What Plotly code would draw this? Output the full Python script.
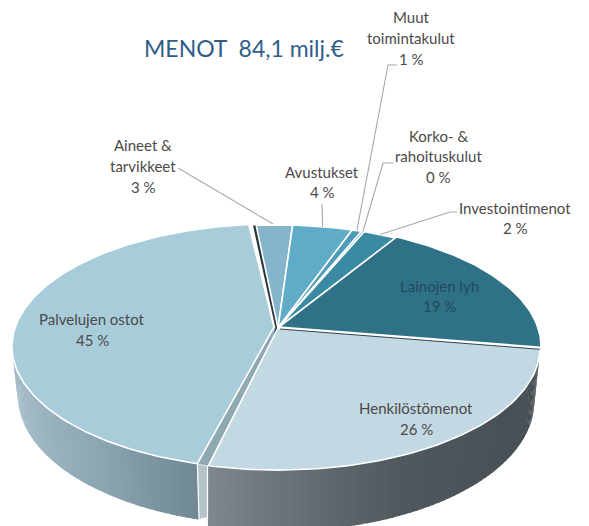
import math
import plotly.graph_objects as go

# ---- data ----
categories = ["Aineet & tarvikkeet", "Avustukset", "Muut toimintakulut", "Korko- & rahoituskulut",
              "Investointimenot", "Lainojen lyh", "Henkilöstömenot", "Palvelujen ostot"]
values = [2.6, 4.3, 0.7, 0.2, 2.4, 19.0, 26.0, 44.8]
percent_labels = ["3 %", "4 %", "1 %", "0 %", "2 %", "19 %", "26 %", "45 %"]
title_text = "MENOT  84,1 milj.€"

# ---- style / layout ----
W, H = 589, 526
FACE = ["#84b5ca", "#60abc8", "#4f9cb8", "#4795b0", "#3a8aa4", "#2f7288", "#c2d8e2", "#a9ccda"]
OFFSET = {7: (-4, -1), 5: (1, -1)}
GAP_7 = 1.4     # the large slice is pulled away from its neighbour
GAP_7_END = 0.9
START = -5.6
X0, Y0, A, B, K = 278, 328, 258.7, 119.5, 0.159
TXT = "#4a4a4a"
FONT = "Lato"

def rim(theta, off=(0, 0)):
    t = math.radians(theta)
    u, v = math.sin(t), math.cos(t)
    d = 1 + K * v
    return X0 + A * u / d + off[0], Y0 - B * v / d + off[1]

def lower(p, extra=0):
    x, y = p
    return X0 + (x - X0) * 0.978, y + 50 + extra + 0.06 * (y - 365)

def mix(c1, c2, f):
    a = [int(c1[i:i + 2], 16) for i in (1, 3, 5)]
    b = [int(c2[i:i + 2], 16) for i in (1, 3, 5)]
    return "rgb(%d,%d,%d)" % tuple(a[i] + (b[i] - a[i]) * f for i in range(3))

def ramp(stops, x):
    for (x1, c1), (x2, c2) in zip(stops, stops[1:]):
        if x <= x2:
            return mix(c1, c2, max(0, (x - x1) / (x2 - x1)))
    return stops[-1][1]

def poly(pts, fill, line="rgba(0,0,0,0)", width=0, name=None):
    fig.add_trace(go.Scatter(x=[p[0] for p in pts] + [pts[0][0]], y=[p[1] for p in pts] + [pts[0][1]],
                             mode="lines", fill="toself", fillcolor=fill,
                             line=dict(color=line, width=width), hoverinfo="text" if name else "skip",
                             text=name, showlegend=False))

def path(pts, color, width):
    fig.add_trace(go.Scatter(x=[p[0] for p in pts], y=[p[1] for p in pts], mode="lines",
                             line=dict(color=color, width=width), hoverinfo="skip", showlegend=False))

fig = go.Figure()

total = sum(values)
bounds = [START]
for v in values:
    bounds.append(bounds[-1] + v / total * 360)

# walls
WALL_L = [(14, "#a3bcc7"), (100, "#8ba5b1"), (200, "#6f8893")]
WALL_R = [(205, "#80898e"), (300, "#666f75"), (400, "#51595e"), (540, "#474f54")]

def wall(t1, t2, off, stops, extra=0, n=70):
    for i in range(n):
        a = t1 + (t2 - t1) * i / n
        b = t1 + (t2 - t1) * (i + 1) / n + (t2 - t1) / n * 0.3
        p, q = rim(a, off), rim(b, off)
        poly([p, q, lower(q, extra), lower(p, extra)], ramp(stops, (p[0] + q[0]) / 2))

wall(bounds[6], bounds[7], OFFSET.get(6, (0, 0)), WALL_R, extra=5)
wall(bounds[7] + GAP_7, 272, OFFSET[7], WALL_L)

# gap pieces between the two front slices
pa, pb = rim(bounds[7] + GAP_7, OFFSET[7]), rim(bounds[7])
poly([pa, (pb[0] - 1, pb[1]), (pb[0] - 1, lower(pb)[1] - 4), lower(pa)], "#b4c4cb", "white", 1.2)
apex_p = (X0 + OFFSET[7][0], Y0 + OFFSET[7][1])
poly([apex_p, (X0, Y0 + 2), pb, pa], "#8fa9b3")
path([rim(bounds[8] - 0.4), (X0 - 1, Y0), (X0 - 3, Y0 + 12)], "#2b3940", 3.2)

# top faces
for i, cat in enumerate(categories):
    off = OFFSET.get(i, (0, 0))
    t1 = bounds[i] + (GAP_7 if i == 7 else 0)
    t2 = bounds[i + 1] - (GAP_7_END if i == 7 else 0)
    n = max(3, int(values[i] * 3))
    arc = [rim(t1 + (t2 - t1) * j / n, off) for j in range(n + 1)]
    poly([(X0 + off[0], Y0 + off[1])] + arc, FACE[i], "white", 1.6, f"{cat}: {percent_labels[i]}")

# dark seam under the dark slice
path([(X0 + 2, Y0 + 1), rim(bounds[6], (0, 1))], "#22333b", 0.9)

# leader lines
LEADER_COLOR = "#a8a8a8"
def mid(i):
    return rim((bounds[i] + bounds[i + 1]) / 2)
path([(178, 168), (273, 224)], LEADER_COLOR, 1.1)
path([(322, 204), mid(1)], LEADER_COLOR, 1.1)
path([(397, 65), (388, 65), mid(2)], LEADER_COLOR, 1.1)
path([(393, 163), (383, 163), mid(3)], LEADER_COLOR, 1.1)
path([(457, 212), (450, 212), mid(4)], LEADER_COLOR, 1.1)

annotations = [dict(x=244, y=48, text=title_text, font=dict(size=23, color="#2f5d8a"))]
LABELS = [
    (143, [145, 166, 187], ["Aineet &", "tarvikkeet", percent_labels[0]], TXT),
    (322, [172, 192], ["Avustukset", percent_labels[1]], TXT),
    (411, [17, 38, 59], ["Muut", "toimintakulut", percent_labels[2]], TXT),
    (438, [136, 156, 177], ["Korko- &", "rahoituskulut", percent_labels[3]], TXT),
    (515, [208, 228], ["Investointimenot", percent_labels[4]], TXT),
    (439, [286, 306], ["Lainojen lyh", percent_labels[5]], "#1f4a5c"),
    (416, [408, 429], ["Henkilöstömenot", percent_labels[6]], TXT),
    (92, [319, 340], ["Palvelujen ostot", percent_labels[7]], TXT),
]
for x, ys, lines, col in LABELS:
    for y, t in zip(ys, lines):
        annotations.append(dict(x=x, y=y, text=t, font=dict(size=15, color=col)))

for a in annotations:
    a.update(xref="x", yref="y", showarrow=False, xanchor="center", yanchor="middle")
    a["font"]["family"] = FONT

fig.update_layout(width=W, height=H, margin=dict(l=0, r=0, t=0, b=0), paper_bgcolor="white", plot_bgcolor="white",
                  showlegend=False, annotations=annotations,
                  xaxis=dict(range=[0, W], visible=False, fixedrange=True),
                  yaxis=dict(range=[H, 0], visible=False, fixedrange=True))
fig.write_html("out.html", config=dict(displayModeBar=False),
               post_script="document.body.style.margin='0';document.documentElement.style.overflow='hidden';")
